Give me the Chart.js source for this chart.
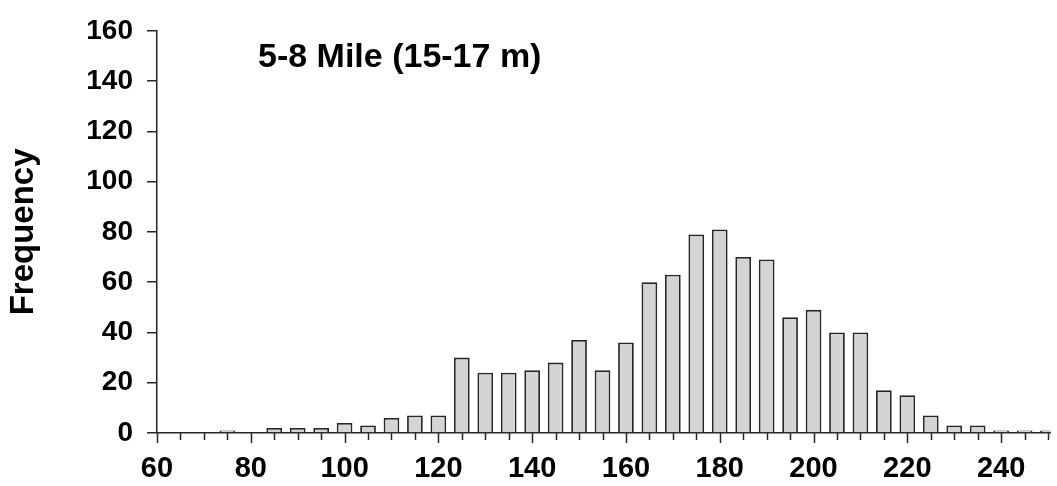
<!DOCTYPE html>
<html>
<head>
<meta charset="utf-8">
<script src="https://cdn.jsdelivr.net/npm/chart.js@4"></script>
<style>
  html, body { margin: 0; padding: 0; background: #fff; }
  #wrap { width: 1057px; height: 486px; }
</style>
</head>
<body>
<div id="wrap"><canvas id="histchart"></canvas></div>
<script>
// bin centres (length, 5-unit bins)
var bins = [60, 65, 70, 75, 80, 85, 90, 95, 100, 105, 110, 115, 120, 125, 130, 135, 140, 145, 150, 155,
            160, 165, 170, 175, 180, 185, 190, 195, 200, 205, 210, 215, 220, 225, 230, 235, 240, 245, 250];
var counts = [0, 0, 0, 1, 0, 2, 2, 2, 4, 3, 6, 7, 7, 30, 24, 24, 25, 28, 37, 25,
              36, 60, 63, 79, 81, 70, 69, 46, 49, 40, 40, 17, 15, 7, 3, 3, 1, 1, 1];
var yTicks = [0, 20, 40, 60, 80, 100, 120, 140, 160];
var xLabelEvery = 20;
var chartTitle = '5-8 Mile (15-17 m)';

var fontFam = '"Liberation Sans", Arial, Helvetica, sans-serif';
var ink = '#262626';

var points = bins.map(function (b, i) { return { x: b, y: counts[i] }; });

// title inside plot + minor/major tick marks on x axis
var extras = {
  id: 'extras',
  afterDraw: function (chart) {
    var ctx = chart.ctx;
    var area = chart.chartArea;
    var xs = chart.scales.x;
    ctx.save();
    ctx.strokeStyle = ink;
    ctx.lineWidth = 1.5;
    xs.ticks.forEach(function (t) {
      var px = Math.round(xs.getPixelForValue(t.value)) + 0.5;
      var len = (t.value % xLabelEvery === 0) ? 10 : 7;
      ctx.beginPath();
      ctx.moveTo(px, area.bottom);
      ctx.lineTo(px, area.bottom + len);
      ctx.stroke();
    });
    ctx.fillStyle = '#000';
    ctx.font = 'bold 34px ' + fontFam;
    ctx.textBaseline = 'middle';
    ctx.textAlign = 'left';
    ctx.fillText(chartTitle, area.left + 101, area.top + 27);
    ctx.restore();
  }
};

var config = {
  type: 'bar',
  data: {
    datasets: [{
      label: 'Frequency',
      data: points,
      backgroundColor: '#d4d4d4',
      borderColor: ink,
      borderWidth: 1.8,
      borderSkipped: 'bottom',
      barPercentage: 0.67,
      categoryPercentage: 1
    }]
  },
  options: {
    responsive: true,
    maintainAspectRatio: false,
    animation: false,
    layout: { padding: { top: 25, right: 0, left: 0, bottom: 0 } },
    plugins: {
      legend: { display: false },
      tooltip: { enabled: false }
    },
    scales: {
      x: {
        type: 'linear',
        offset: false,
        min: 60,
        max: 250.6,
        grid: { offset: false, drawOnChartArea: false, tickLength: 10, tickColor: 'rgba(0,0,0,0)' },
        border: { color: ink, width: 1.5 },
        ticks: {
          stepSize: 5,
          includeBounds: false,
          autoSkip: false,
          maxRotation: 0,
          padding: 9,
          color: '#000',
          font: { family: fontFam, size: 29, weight: 'bold' },
          callback: function (v) { return v % xLabelEvery === 0 ? String(v) : ''; }
        },
        afterFit: function (s) { s.height = 53; }
      },
      y: {
        min: 0,
        max: 160,
        afterBuildTicks: function (s) { s.ticks = yTicks.map(function (v) { return { value: v }; }); },
        grid: { drawOnChartArea: false, tickLength: 10, color: ink, lineWidth: 1.5 },
        border: { color: ink, width: 1.5 },
        ticks: {
          padding: 14,
          color: '#000',
          font: { family: fontFam, size: 28, weight: 'bold' }
        },
        title: {
          display: true,
          text: 'Frequency',
          color: '#000',
          padding: { top: 4, bottom: 0 },
          font: { family: fontFam, size: 33, weight: 'bold' }
        },
        afterFit: function (s) { s.width = 157; }
      }
    }
  },
  plugins: [extras]
};

var histchart = new Chart(document.getElementById('histchart'), config);
</script>
</body>
</html>
